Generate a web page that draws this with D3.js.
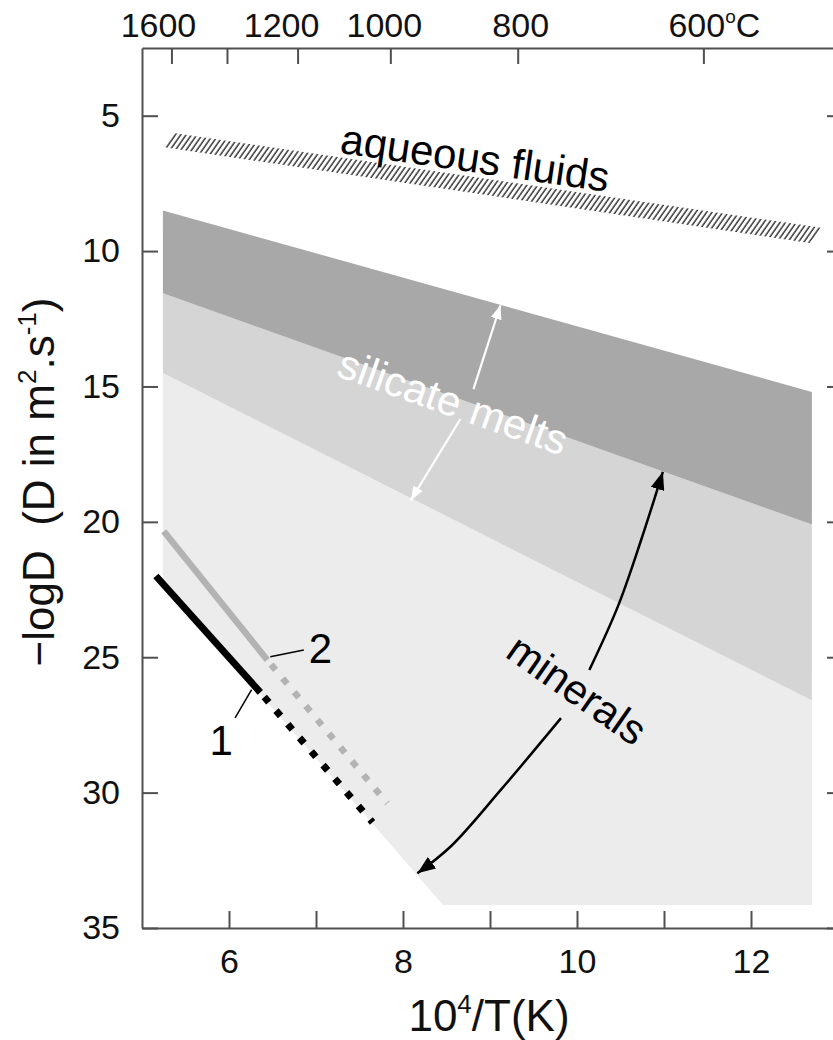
<!DOCTYPE html>
<html><head><meta charset="utf-8">
<script src="https://cdn.jsdelivr.net/npm/d3@7"></script>
<style>
body{margin:0;background:#fff}
svg{display:block}
text{font-family:"Liberation Sans", Arial, Helvetica, sans-serif;}
</style>
</head><body>
<svg id="chart" width="833" height="1040"></svg>
<script>
// ---------------- data ----------------
const xTicks = [6, 7, 8, 9, 10, 11, 12];
const xTickLabels = [6, 8, 10, 12];
const yTicks = [5, 10, 15, 20, 25, 30, 35];
const topTempTicks = [1600, 1400, 1200, 1000, 800, 600];      // °C
const topTempLabels = ["1600", "", "1200", "1000", "800", "600"];

// shaded fields (x = 10^4/T, y = -logD)
const darkBand   = [[5.24, 8.5], [12.7, 15.2], [12.7, 20.1], [5.24, 11.56]];
const mediumBand = [[5.24, 11.56], [12.7, 20.1], [12.7, 26.6], [5.24, 14.5]];
const lightBand  = [[5.24, 14.5], [12.7, 26.6], [12.7, 34.15], [8.46, 34.15], [5.24, 22.2]];
const aqueousBand = [[5.36, 5.64], [12.83, 9.15], [12.67, 9.7], [5.24, 6.16]];

// curves 1 and 2
const line1Solid  = [[5.16, 22.0], [6.36, 26.3]];
const line1Dotted = [[6.36, 26.3], [7.65, 31.1]];
const line2Solid  = [[5.25, 20.35], [6.44, 25.1]];
const line2Dotted = [[6.44, 25.1], [7.82, 30.4]];
const leader1 = [[6.07, 27.24], [6.26, 26.2]];
const leader2 = [[6.475, 24.98], [6.86, 24.73]];

// annotation arrows
const meltArrowUp   = [[8.81, 15.1], [9.12, 12.0]];
const meltArrowDown = [[8.66, 16.2], [8.09, 19.2]];
const mineralArrowUp   = [[10.142, 25.47], [10.469, 23.13], [10.737, 20.67], [10.987, 18.15]];
const mineralArrowDown = [[9.816, 27.25], [9.124, 29.9], [8.548, 31.99], [8.165, 32.98]];

// labels: [text, x, y, angle]
const labelAqueous  = ["aqueous fluids", 8.83, 6.56, 8.3];
const labelSilicate = ["silicate melts", 8.575, 15.57, 19.5];
const labelMinerals = ["minerals", 10.0, 26.2, 35];
const label1 = ["1", 5.91, 28.6];
const label2 = ["2", 7.05, 25.2];

// ---------------- drawing ----------------
const svg = d3.select("#chart");
const x = d3.scaleLinear().domain([5, 13]).range([142, 838]);
const y = d3.scaleLinear().domain([2.5, 35]).range([48, 928]);
const tx = t => x(1e4 / (t + 273.15));

const defs = svg.append("defs");
const hatch = defs.append("pattern").attr("id", "hatch")
  .attr("patternUnits", "userSpaceOnUse").attr("width", 4.4).attr("height", 10)
  .attr("patternTransform", "rotate(35)");
hatch.append("line").attr("x1", 1).attr("x2", 1).attr("y1", 0).attr("y2", 10)
  .attr("stroke", "#2a2a2a").attr("stroke-width", 1.4);

function marker(id, color, w, h) {
  defs.append("marker").attr("id", id)
    .attr("viewBox", `0 0 ${w} ${h}`).attr("refX", w).attr("refY", h / 2)
    .attr("markerWidth", w).attr("markerHeight", h).attr("markerUnits", "userSpaceOnUse")
    .attr("orient", "auto")
    .append("path").attr("d", `M0,0L${w},${h/2}L0,${h}Z`).attr("fill", color);
}
marker("wArrow", "#ffffff", 14, 11);
marker("bArrow", "#000000", 18, 14);

const poly = d3.line().x(d => x(d[0])).y(d => y(d[1]));
const polyC = d => poly(d) + "Z";

svg.append("path").attr("d", polyC(lightBand)).attr("fill", "#ececec");
svg.append("path").attr("d", polyC(mediumBand)).attr("fill", "#d5d5d5");
svg.append("path").attr("d", polyC(darkBand)).attr("fill", "#a8a8a8");
svg.append("path").attr("d", polyC(aqueousBand)).attr("fill", "url(#hatch)");

// lines 1 and 2
svg.append("path").attr("d", poly(line2Solid)).attr("stroke", "#b3b3b3").attr("stroke-width", 6.5).attr("fill", "none");
svg.append("path").attr("d", poly(line2Dotted)).attr("stroke", "#b3b3b3").attr("stroke-width", 6.5)
  .attr("stroke-dasharray", "7,11").attr("stroke-dashoffset", 12).attr("fill", "none");
svg.append("path").attr("d", poly(line1Solid)).attr("stroke", "#000").attr("stroke-width", 7).attr("fill", "none");
svg.append("path").attr("d", poly(line1Dotted)).attr("stroke", "#000").attr("stroke-width", 7)
  .attr("stroke-dasharray", "7,11").attr("stroke-dashoffset", 12).attr("fill", "none");
svg.append("path").attr("d", poly(leader1)).attr("stroke", "#000").attr("stroke-width", 1.5);
svg.append("path").attr("d", poly(leader2)).attr("stroke", "#000").attr("stroke-width", 1.5);

svg.append("text").attr("x", x(label1[1])).attr("y", y(label1[2])).attr("text-anchor", "middle")
  .attr("font-size", 42).text(label1[0]);
svg.append("text").attr("x", x(label2[1])).attr("y", y(label2[2])).attr("text-anchor", "middle")
  .attr("font-size", 42).text(label2[0]);

// arrows
svg.append("path").attr("d", poly(meltArrowUp)).attr("stroke", "#fff").attr("stroke-width", 2.2).attr("marker-end", "url(#wArrow)");
svg.append("path").attr("d", poly(meltArrowDown)).attr("stroke", "#fff").attr("stroke-width", 2.2).attr("marker-end", "url(#wArrow)");
const curve = d3.line().x(d => x(d[0])).y(d => y(d[1])).curve(d3.curveCatmullRom);
svg.append("path").attr("d", curve(mineralArrowUp)).attr("stroke", "#000").attr("stroke-width", 2.5).attr("fill", "none").attr("marker-end", "url(#bArrow)");
svg.append("path").attr("d", curve(mineralArrowDown)).attr("stroke", "#000").attr("stroke-width", 2.5).attr("fill", "none").attr("marker-end", "url(#bArrow)");

function rotLabel(l, size, color) {
  svg.append("text")
    .attr("transform", `translate(${x(l[1])},${y(l[2])}) rotate(${l[3]})`)
    .attr("text-anchor", "middle").attr("dominant-baseline", "central")
    .attr("font-size", size).attr("fill", color).text(l[0]);
}
rotLabel(labelAqueous, 42, "#000");
rotLabel(labelSilicate, 42, "#fff");
rotLabel(labelMinerals, 42, "#000");

// axes
const axisColor = "#505050";
const tickFont = 34;
function styleAxis(g) {
  g.selectAll("path.domain").attr("stroke", axisColor).attr("stroke-width", 2);
  g.selectAll(".tick line").attr("stroke", axisColor).attr("stroke-width", 2);
  g.selectAll("text").attr("font-size", tickFont).attr("fill", "#111")
    .style("font-family", '"Liberation Sans", Arial, sans-serif');
}
const gb = svg.append("g").attr("transform", `translate(0,${y(35)})`)
  .call(d3.axisBottom(x).tickValues(xTicks).tickSize(-17).tickSizeOuter(0).tickPadding(21)
    .tickFormat(d => xTickLabels.includes(d) ? d : ""));
styleAxis(gb);
const gl = svg.append("g").attr("transform", `translate(${x(5)},0)`)
  .call(d3.axisLeft(y).tickValues(yTicks).tickSize(-16).tickSizeOuter(0).tickPadding(22));
styleAxis(gl);
const gr = svg.append("g").attr("transform", `translate(${x(13)},0)`)
  .call(d3.axisRight(y).tickValues(yTicks).tickSize(-11).tickSizeOuter(0).tickFormat(""));
styleAxis(gr);
const topScale = d3.scaleLinear().domain(x.domain()).range(x.range());
const gt = svg.append("g").attr("transform", `translate(0,${y(2.5)})`)
  .call(d3.axisTop(topScale).tickValues(topTempTicks.map(t => 1e4 / (t + 273.15)))
    .tickSize(-16).tickSizeOuter(0).tickFormat(""));
styleAxis(gt);

// top labels (slight offsets as in the original)
const topLabelShift = [-13, 0, -16, -6, 3, 0];
topTempTicks.forEach((t, i) => {
  if (!topTempLabels[i]) return;
  const tEl = svg.append("text").attr("y", 37).attr("font-size", tickFont).attr("fill", "#111");
  if (t === 600) {
    tEl.attr("x", tx(t) - 35).attr("text-anchor", "start");
    tEl.append("tspan").text(topTempLabels[i]);
    tEl.append("tspan").attr("font-size", 19).attr("dy", -14).text("o");
    tEl.append("tspan").attr("dy", 14).text("C");
  } else {
    tEl.attr("x", tx(t) + topLabelShift[i]).attr("text-anchor", "middle").text(topTempLabels[i]);
  }
});

// axis titles
const xt = svg.append("text").attr("x", 489).attr("y", 1031).attr("text-anchor", "middle")
  .attr("font-size", 44).attr("fill", "#111");
xt.append("tspan").text("10");
xt.append("tspan").attr("font-size", 26).attr("dy", -18).text("4");
xt.append("tspan").attr("dy", 18).text("/T(K)");

const yt = svg.append("text").attr("transform", "translate(54,482) rotate(-90)")
  .attr("text-anchor", "middle").attr("font-size", 44).attr("fill", "#111");
yt.append("tspan").text("\u2212logD\u00a0\u00a0(D in m");
yt.append("tspan").attr("font-size", 26).attr("dy", -18).text("2");
yt.append("tspan").attr("dy", 18).text(".s");
yt.append("tspan").attr("font-size", 26).attr("dy", -18).text("-1");
yt.append("tspan").attr("dy", 18).text(")");
</script>
</body></html>
